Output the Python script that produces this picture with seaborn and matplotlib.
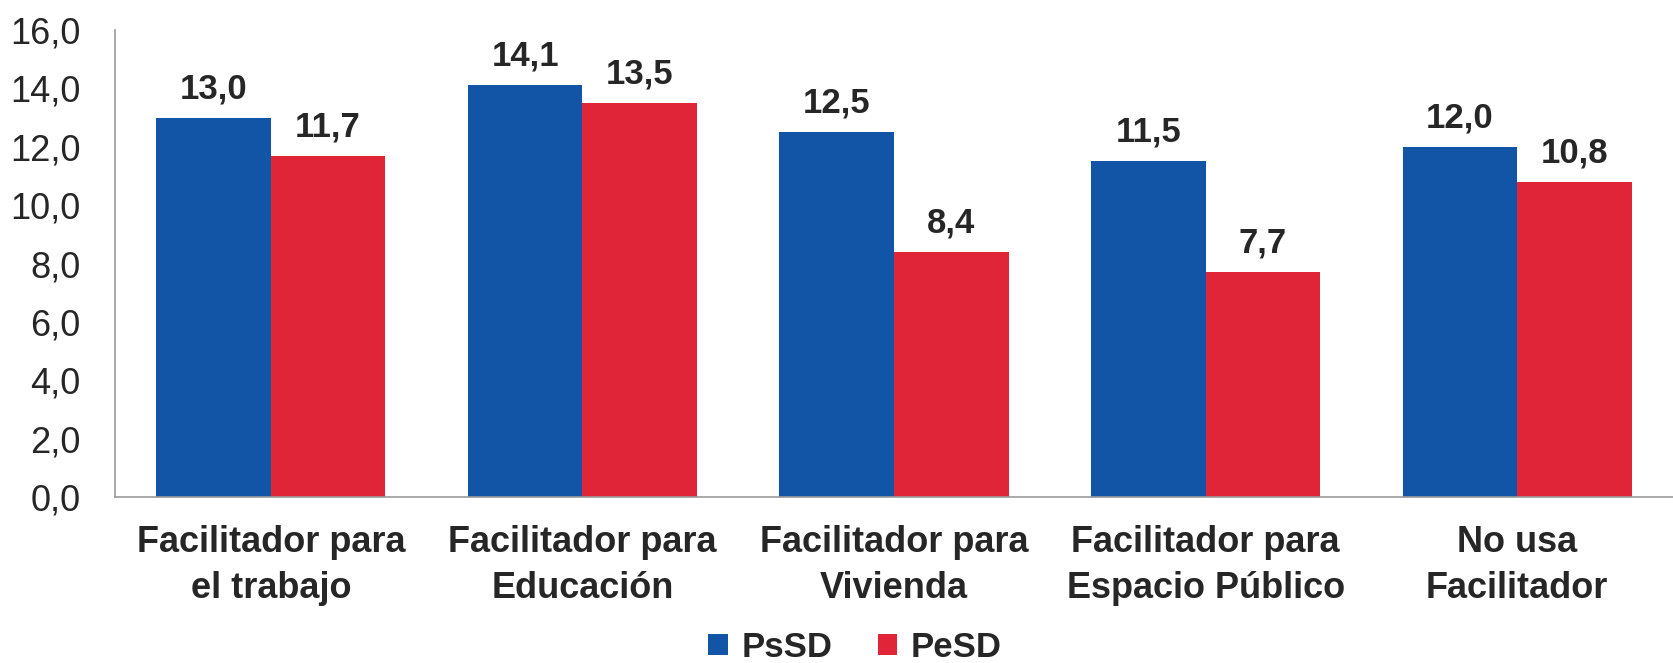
import pandas as pd
import seaborn as sns
import matplotlib.pyplot as plt

categorias = ["Facilitador para\nel trabajo", "Facilitador para\nEducación", "Facilitador para\nVivienda",
              "Facilitador para\nEspacio Público", "No usa\nFacilitador"]
psd = [13.0, 14.1, 12.5, 11.5, 12.0]
pesd = [11.7, 13.5, 8.4, 7.7, 10.8]
grupos = ["PsSD", "PeSD"]
colores = ["#1254A5", "#E12539"]

df = pd.DataFrame({
  "categoria": categorias * 2,
  "valor": psd + pesd,
  "grupo": [grupos[0]] * len(categorias) + [grupos[1]] * len(categorias),
})

sns.set_style("white")
plt.rcParams["font.family"] = ["Liberation Sans", "DejaVu Sans"]

fig, ax = plt.subplots(figsize=(16.73, 6.63), dpi=100)
fig.subplots_adjust(left=115/1673, right=1.0, top=1-30/663, bottom=1-497/663)

sns.barplot(data=df, x="categoria", y="valor", hue="grupo", palette=colores,
            width=0.735, gap=0, saturation=1, linewidth=0, ax=ax, legend=True)

for cont in ax.containers:
  ax.bar_label(cont, labels=[f"{v:.1f}".replace(".", ",") for v in cont.datavalues],
               padding=9, fontsize=25, fontweight="bold")

ax.set_ylim(0, 16)
ax.set_yticks(range(0, 17, 2))
ax.set_yticklabels([f"{v:.1f}".replace(".", ",") for v in range(0, 17, 2)], fontsize=26)
ax.tick_params(axis="x", labelsize=26, length=0, pad=20)
ax.tick_params(axis="y", length=0, pad=25)
for lab in ax.get_xticklabels():
  lab.set_fontweight("bold")
  lab.set_linespacing(1.4)
ax.set_xlabel("")
ax.set_ylabel("")
ax.set_xlim(-0.5, 4.5)
for s in ["top", "right"]:
  ax.spines[s].set_visible(False)
for s in ["left", "bottom"]:
  ax.spines[s].set_color("#999999")
  ax.spines[s].set_linewidth(1.2)

ax.legend(loc="center", bbox_to_anchor=(0.475, -0.322), ncol=2, frameon=False,
          prop={"size": 25, "weight": "bold"}, handlelength=0.55, handleheight=0.55,
          columnspacing=1.3, handletextpad=0.4, borderpad=0)

plt.savefig("out.png", dpi=100)
